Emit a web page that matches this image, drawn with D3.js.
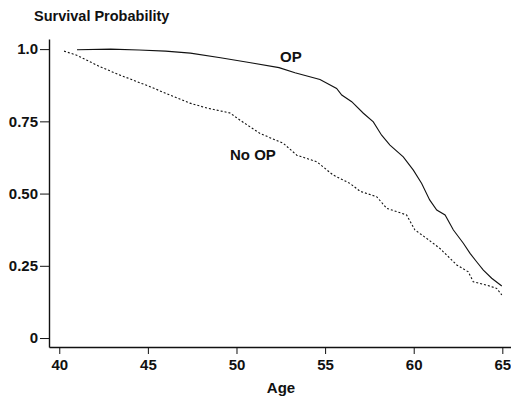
<!DOCTYPE html>
<html>
<head>
<meta charset="utf-8">
<script src="https://cdn.jsdelivr.net/npm/d3@7"></script>
<style>
  body { margin: 0; background: #fff; }
  svg { display: block; font-family: "Liberation Sans", Arial, Helvetica, sans-serif; }
</style>
</head>
<body>
<svg id="fig" width="511" height="398"></svg>
<script>
// Kaplan-Meier style survival curves
const opAge  = [41.0, 42.9, 44.5, 46.0, 47.4, 49.1, 50.8, 52.4, 53.3, 54.71, 55.65, 55.94, 56.5, 57.16, 57.72, 58.19, 58.66, 59.41, 59.98, 60.45, 60.9, 61.3, 61.77, 62.24, 62.8, 63.18, 63.55, 63.93, 64.4, 64.97];
const opProb = [0.998, 1.0, 0.997, 0.993, 0.986, 0.970, 0.953, 0.936, 0.918, 0.895, 0.864, 0.841, 0.818, 0.778, 0.748, 0.702, 0.668, 0.627, 0.581, 0.535, 0.478, 0.443, 0.426, 0.374, 0.328, 0.293, 0.264, 0.235, 0.207, 0.180];

const noAge  = [40.27, 40.98, 42.3, 43.43, 45.12, 46.24, 47.37, 48.34, 49.63, 50.2, 51.33, 52.64, 53.4, 54.53, 55.46, 56.41, 56.97, 57.91, 58.48, 59.6, 60.07, 60.73, 61.48, 62.43, 63.08, 63.36, 64.12, 64.68, 64.97];
const noProb = [0.993, 0.979, 0.939, 0.910, 0.870, 0.841, 0.813, 0.796, 0.779, 0.754, 0.708, 0.674, 0.633, 0.610, 0.564, 0.535, 0.508, 0.489, 0.449, 0.426, 0.374, 0.345, 0.310, 0.253, 0.229, 0.195, 0.183, 0.172, 0.149];

const xTicks = [40, 45, 50, 55, 60, 65];
const yTicks = [0, 0.25, 0.5, 0.75, 1.0];
const yTickLabels = ['0', '0.25', '0.50', '0.75', '1.0'];

const svg = d3.select('#fig');
const ink = '#111';

const xScale = d3.scaleLinear().domain([39.42, 65.49]).range([49, 511]);
const yScale = d3.scaleLinear().domain([-0.031, 1.035]).range([347, 39]);

const xAxis = d3.axisBottom(xScale).tickValues(xTicks).tickSize(7).tickSizeOuter(0).tickPadding(5);
const yAxis = d3.axisLeft(yScale).tickValues(yTicks).tickSize(9).tickSizeOuter(0).tickPadding(2)
    .tickFormat((d, i) => yTickLabels[i]);

const xg = svg.append('g').attr('transform', 'translate(0,347)').call(xAxis);
const yg = svg.append('g').attr('transform', 'translate(49,0)').call(yAxis);

[xg, yg].forEach(g => {
    g.select('.domain').attr('stroke', ink).attr('stroke-width', 1.4);
    g.selectAll('.tick line').attr('stroke', ink).attr('stroke-width', 1);
    g.selectAll('.tick text')
        .attr('fill', ink)
        .attr('font-size', '15px')
        .attr('font-weight', 'bold')
        .attr('font-family', '"Liberation Sans", Arial, sans-serif');
});

const line = d3.line()
    .x(d => xScale(d[0]))
    .y(d => yScale(d[1]));

svg.append('path')
    .datum(d3.zip(opAge, opProb))
    .attr('d', line)
    .attr('fill', 'none')
    .attr('stroke', ink)
    .attr('stroke-width', 1.1);

svg.append('path')
    .datum(d3.zip(noAge, noProb))
    .attr('d', line)
    .attr('fill', 'none')
    .attr('stroke', ink)
    .attr('stroke-width', 1.1)
    .attr('stroke-dasharray', '2,2');

const label = (x, y, txt, anchor) => svg.append('text')
    .attr('x', x).attr('y', y)
    .attr('text-anchor', anchor || 'start')
    .attr('font-size', '15px')
    .attr('font-weight', 'bold')
    .attr('fill', ink)
    .text(txt);

label(34, 21, 'Survival Probability').attr('font-size', '14.5px');
label(280, 62, 'OP');
label(230, 160, 'No OP');
label(281, 393, 'Age', 'middle');
</script>
</body>
</html>
